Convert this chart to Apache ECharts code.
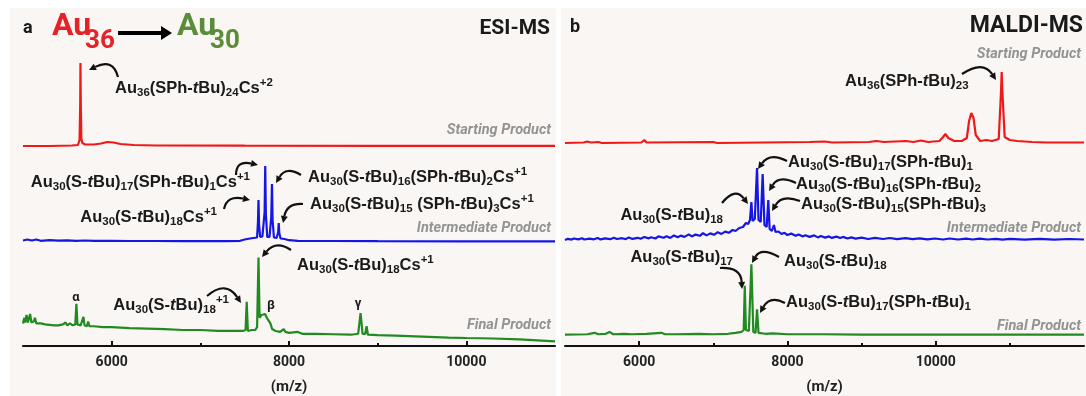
<!DOCTYPE html>
<html>
<head>
<meta charset="utf-8">
<script src="https://cdn.jsdelivr.net/npm/echarts@6/dist/echarts.min.js"></script>
<style>
html, body { margin: 0; padding: 0; background: #fff; }
#chart { width: 1086px; height: 396px; }
</style>
</head>
<body>
<div id="chart"></div>
<script>
// m/z ranges and ticks
const esiRange = [5000, 11000]
const maldiRange = [5000, 12000]
const majorTicks = [6000, 8000, 10000]
const esiMinorTicks = [7000, 9000]
const maldiMinorTicks = [7000, 9000, 11000]

// ESI-MS spectra, [m/z, intensity]
const esiStart = [[5000,0],[5300,0],[5550,0.5],[5620,1],[5638,6],[5645,40],[5648,83],[5652,40],[5658,7],[5670,3],[5700,1.5],[5800,1.5],[5880,2.5],[5950,4],[6020,3.5],[6100,2],[6250,1],[6500,0.5],[7500,0.3],[9000,0.2],[11000,0.2]]
const esiInter = [[5000,1.5],[5050,2.5],[5100,1.5],[5150,2.5],[5200,1.2],[5300,1.8],[5400,1.3],[5500,1.6],[5600,1.2],[5700,1.5],[5800,1.1],[6000,1.2],[6200,1],[6500,1],[6800,0.8],[7000,0.9],[7300,0.8],[7450,1.2],[7500,2.5],[7560,3.5],[7600,4],[7640,4.5],[7650,20],[7656,42],[7662,18],[7675,5],[7700,5.5],[7725,30],[7732,76],[7739,28],[7755,5],[7780,5],[7800,25],[7808,58],[7815,22],[7830,4.5],[7860,4],[7878,10],[7884,19],[7890,9],[7905,3.5],[7950,3],[8000,1.8],[8100,1.2],[8500,1],[9000,0.8],[10000,0.7],[11000,0.6]]
const esiFinal = [[5000,24],[5015,30],[5025,25],[5040,33],[5055,25],[5080,34],[5095,25],[5120,26],[5135,30],[5150,24],[5200,24],[5250,23],[5300,22.5],[5350,22],[5400,22],[5450,23],[5480,25],[5500,22],[5530,24],[5560,22],[5590,23],[5602,45],[5614,23],[5650,22],[5670,22],[5682,31],[5694,22],[5720,21],[5735,26],[5750,21],[5800,21],[5900,20],[6000,20],[6200,19],[6400,18.5],[6600,18],[6800,17],[7000,17],[7200,16],[7400,16],[7480,16],[7510,17],[7523,47],[7536,16],[7580,17],[7620,17],[7640,20],[7656,94],[7668,30],[7690,33],[7710,31],[7730,34],[7750,30],[7770,29],[7790,24],[7810,18],[7850,16],[7900,15],[7940,18],[7960,15],[8000,14],[8100,15],[8150,13],[8300,13],[8500,12.5],[8700,12],[8780,13],[8807,35],[8830,13],[8860,13],[8875,21],[8890,12],[9000,11.5],[9200,11],[9500,10],[9800,9],[10000,8.5],[10300,8],[10600,7],[11000,5]]

// MALDI-MS spectra, [m/z, intensity]
const maldiStart = [[5000,0],[5250,0.5],[5300,1.5],[5350,0.5],[5450,1],[5500,0],[6030,0.5],[6070,3],[6100,0.5],[7000,1],[7050,0],[8300,1],[8500,1.5],[8600,0.5],[9100,1],[9200,2],[9300,1],[9600,2],[9700,1],[9800,2.5],[9900,1],[10050,2],[10100,6],[10130,9],[10170,5],[10250,2],[10350,2],[10420,5],[10450,22],[10480,30],[10510,25],[10540,8],[10600,2],[10680,3],[10760,2],[10850,4],[10880,50],[10890,71],[10900,50],[10930,6],[11000,3],[11100,2],[11300,1],[11500,0.5],[12000,0.5]]
const maldiInter = [[5000,0],[5040,1.2],[5090,0.4],[5120,1.5],[5180,0.6],[5230,1.8],[5260,0.5],[5330,1.4],[5390,0.7],[5440,2],[5480,0.6],[5540,1.6],[5610,0.8],[5660,2.2],[5700,1],[5770,1.8],[5820,0.9],[5860,2.6],[5910,1.1],[5980,2.2],[6020,1.3],[6070,3],[6130,1.6],[6160,2.8],[6220,1.5],[6260,3.6],[6330,2.2],[6370,3.8],[6420,2.1],[6470,4.6],[6520,2.8],[6560,4.4],[6610,3.1],[6670,5.6],[6710,3.6],[6760,5.4],[6820,4.2],[6860,6.8],[6910,4.6],[6960,6.6],[7010,5.2],[7060,7.8],[7110,6.1],[7160,8.4],[7210,7.2],[7260,10],[7300,9],[7350,12],[7400,13],[7440,17],[7470,16],[7495,20],[7514,38],[7530,19],[7560,21],[7590,72],[7610,20],[7640,18],[7666,66],[7690,15],[7720,13],[7742,40],[7760,11],[7790,9],[7818,15],[7840,8],[7880,8.5],[7920,6],[7960,7.2],[8000,5],[8050,6.4],[8110,4.2],[8150,5.6],[8210,3.6],[8240,4.8],[8300,3.1],[8360,4.6],[8410,2.6],[8450,4],[8510,2.4],[8560,3.6],[8600,2.1],[8660,3.4],[8710,1.9],[8750,3.1],[8810,1.5],[8860,2.6],[8920,1.4],[9000,2.4],[9090,1],[9180,2.1],[9290,1],[9380,2],[9480,0.8],[9590,1.8],[9690,0.8],[9780,1.7],[9890,0.6],[9990,1.5],[10100,0.5],[10190,1.5],[10300,0.5],[10410,1.4],[10500,0.5],[10590,1.4],[10700,0.5],[10810,1.2],[10900,0.4],[11000,1.2],[11200,0.4],[11400,1.2],[11600,0.4],[11800,1],[12000,0.5]]
const maldiFinal = [[5000,12],[5300,12.5],[5400,14],[5450,12.5],[5550,13],[5600,15],[5650,12.5],[5800,13],[5900,12.5],[6100,13],[6300,14],[6350,12.5],[6500,12.5],[6800,13],[7000,12.5],[7200,13],[7300,14],[7380,15],[7410,17],[7425,64],[7440,17],[7480,16],[7514,87],[7540,15],[7570,14],[7590,39],[7610,14],[7700,13],[7800,13.5],[8000,12.5],[8500,12.5],[9000,12],[10000,12],[11000,12],[12000,12]]

const red = '#f01818'
const blue = '#1616e4'
const green = '#218b21'
const ink = '#1a1a1a'

// label markup: _{sub} ^{sup} *italic*
function fm(s){
    return s.split(/(_\{[^}]*\}|\^\{[^}]*\}|\*[^*]*\*)/).filter(t => t).map(t => {
        if (t[0] === '_') return '{s|' + t.slice(2, -1) + '}'
        if (t[0] === '^') return '{p|' + t.slice(2, -1) + '}'
        if (t[0] === '*') return '{i|' + t.slice(1, -1) + '}'
        return '{n|' + t + '}'
    }).join('')
}

const fam = 'Roboto, Arial, sans-serif'
const lab = '"Liberation Sans", Arial, sans-serif'
const rich = {
    n: { fontSize: 16.5, fontWeight: 'bold', fontFamily: lab, fill: ink, lineHeight: 22 },
    i: { fontSize: 16.5, fontWeight: 'bold', fontStyle: 'italic', fontFamily: lab, fill: ink, lineHeight: 22 },
    s: { fontSize: 11.5, fontWeight: 'bold', fontFamily: lab, fill: ink, lineHeight: 13, verticalAlign: 'bottom' },
    p: { fontSize: 11.5, fontWeight: 'bold', fontFamily: lab, fill: ink, lineHeight: 13, verticalAlign: 'top' }
}

function label(x, y, s, align){
    return {
        type: 'text', x: x, y: y, z: 100,
        style: { text: fm(s), rich: rich, align: align || 'left', textAlign: align || 'left', verticalAlign: 'middle', textVerticalAlign: 'middle' }
    }
}

function plain(x, y, s, font, color, align){
    return {
        type: 'text', x: x, y: y, z: 100,
        style: { text: s, font: font, fill: color, align: align || 'left', textAlign: align || 'left', verticalAlign: 'middle', textVerticalAlign: 'middle' }
    }
}

function arrow(x1, y1, cx, cy, x2, y2){
    let a = Math.atan2(y2 - cy, x2 - cx)
    let L = 7, W = 3.5
    let bx = x2 - L * Math.cos(a), by = y2 - L * Math.sin(a)
    let px = -Math.sin(a) * W, py = Math.cos(a) * W
    return [
        { type: 'bezierCurve', z: 100, shape: { x1: x1, y1: y1, x2: bx, y2: by, cpx1: cx, cpy1: cy }, style: { stroke: '#111', lineWidth: 2.2, fill: 'none' } },
        { type: 'polygon', z: 100, shape: { points: [[x2, y2], [bx + px, by + py], [bx - px, by - py]] }, style: { fill: '#111' } }
    ]
}

const tagFont = 'italic bold 14.5px ' + fam
const tagColor = '#939393'

let graphics = [
    { type: 'rect', z: -10, shape: { x: 10, y: 8, width: 546, height: 388 }, style: { fill: '#f9f6f4' } },
    { type: 'rect', z: -10, shape: { x: 561, y: 8, width: 525, height: 388 }, style: { fill: '#f9f6f4' } },

    // panel a header
    plain(23, 28, 'a', 'bold 18px ' + fam, ink),
    plain(52, 27, 'Au', 'bold 32px ' + fam, '#e52228'),
    plain(85, 41, '36', 'bold 26px ' + fam, '#e52228'),
    { type: 'line', z: 100, shape: { x1: 118, y1: 33, x2: 163, y2: 33 }, style: { stroke: '#000', lineWidth: 4 } },
    { type: 'polygon', z: 100, shape: { points: [[161, 26], [172, 33], [161, 40]] }, style: { fill: '#000' } },
    plain(177, 27, 'Au', 'bold 32px ' + fam, '#5a8c3a'),
    plain(210, 41, '30', 'bold 26px ' + fam, '#5a8c3a'),
    plain(550, 29, 'ESI-MS', 'bold 21px ' + fam, ink, 'right'),

    // panel a labels
    label(115, 88, 'Au_{36}(SPh-*t*Bu)_{24}Cs^{+2}'),
    plain(551, 130, 'Starting Product', tagFont, tagColor, 'right'),
    label(250, 182, 'Au_{30}(S-*t*Bu)_{17}(SPh-*t*Bu)_{1}Cs^{+1}', 'right'),
    label(217, 217, 'Au_{30}(S-*t*Bu)_{18}Cs^{+1}', 'right'),
    label(308, 177, 'Au_{30}(S-*t*Bu)_{16}(SPh-*t*Bu)_{2}Cs^{+1}'),
    label(310, 204, 'Au_{30}(S-*t*Bu)_{15} (SPh-*t*Bu)_{3}Cs^{+1}'),
    plain(551, 228, 'Intermediate Product', tagFont, tagColor, 'right'),
    label(297, 265, 'Au_{30}(S-*t*Bu)_{18}Cs^{+1}'),
    label(229, 305, 'Au_{30}(S-*t*Bu)_{18}^{+1}', 'right'),
    plain(76, 298, 'α', 'bold 13px ' + fam, ink, 'center'),
    plain(271, 306, 'β', 'bold 13px ' + fam, ink, 'center'),
    plain(358, 304, 'γ', 'bold 13px ' + fam, ink, 'center'),
    plain(551, 325, 'Final Product', tagFont, tagColor, 'right'),

    // panel b header
    plain(570, 27, 'b', 'bold 18px ' + fam, ink),
    plain(1083, 26, 'MALDI-MS', 'bold 23px ' + fam, ink, 'right'),
    plain(1081, 54, 'Starting Product', tagFont, tagColor, 'right'),
    label(845, 81, 'Au_{36}(SPh-*t*Bu)_{23}'),

    // panel b labels
    label(788, 162, 'Au_{30}(S-*t*Bu)_{17}(SPh-*t*Bu)_{1}'),
    label(796, 184, 'Au_{30}(S-*t*Bu)_{16}(SPh-*t*Bu)_{2}'),
    label(801, 204, 'Au_{30}(S-*t*Bu)_{15}(SPh-*t*Bu)_{3}'),
    label(723, 215, 'Au_{30}(S-*t*Bu)_{18}', 'right'),
    plain(1081, 228, 'Intermediate Product', tagFont, tagColor, 'right'),
    label(733, 257, 'Au_{30}(S-*t*Bu)_{17}', 'right'),
    label(784, 261, 'Au_{30}(S-*t*Bu)_{18}'),
    label(786, 302, 'Au_{30}(S-*t*Bu)_{17}(SPh-*t*Bu)_{1}'),
    plain(1081, 326, 'Final Product', tagFont, tagColor, 'right')
]

graphics = graphics.concat(
    arrow(118, 77, 113, 58, 89, 70),
    arrow(236, 175, 236, 160, 258, 165),
    arrow(224, 209, 227, 195, 250, 200),
    arrow(301, 175, 286, 166, 276, 183),
    arrow(303, 204, 287, 203, 283, 223),
    arrow(291, 250, 276, 240, 262, 257),
    arrow(207, 296, 226, 280, 241, 303),
    arrow(962, 74, 983, 60, 996, 80),
    arrow(787, 161, 770, 152, 758, 169),
    arrow(796, 183, 779, 175, 769, 191),
    arrow(800, 201, 782, 194, 772, 211),
    arrow(722, 203, 735, 187, 748, 204),
    arrow(720, 268, 741, 267, 742, 289),
    arrow(779, 257, 761, 247, 752, 263),
    arrow(785, 303, 770, 295, 760, 313)
)

// grids: panel a (top, mid, bottom), panel b (top, mid, bottom)
const grids = [
    { left: 23, width: 532, top: 46, height: 105 },
    { left: 23, width: 532, top: 142, height: 105 },
    { left: 23, width: 532, top: 252, height: 100 },
    { left: 565, width: 519, top: 43, height: 105 },
    { left: 565, width: 519, top: 140, height: 105 },
    { left: 565, width: 519, top: 252, height: 100 }
]

function hiddenX(gi, range){
    return { type: 'value', gridIndex: gi, min: range[0], max: range[1], show: false }
}
function mainX(gi, range){
    return {
        type: 'value', gridIndex: gi, min: range[0], max: range[1], position: 'bottom',
        splitLine: { show: false },
        axisLine: { show: true, onZero: false, lineStyle: { color: '#111', width: 2 } },
        axisTick: { show: true, inside: true, length: 5, customValues: majorTicks, lineStyle: { color: '#111', width: 2 } },
        axisLabel: { customValues: majorTicks, formatter: v => String(v), margin: 9, color: '#222', fontSize: 14, fontWeight: 'bold', fontFamily: fam },
        name: '(m/z)', nameLocation: 'middle', nameGap: 34,
        nameTextStyle: { color: '#222', fontSize: 15, fontWeight: 'bold', fontFamily: fam }
    }
}
function minorX(gi, range, ticks){
    return {
        type: 'value', gridIndex: gi, min: range[0], max: range[1], position: 'bottom',
        splitLine: { show: false },
        axisLine: { show: false, onZero: false },
        axisTick: { show: true, inside: true, length: 3, customValues: ticks, lineStyle: { color: '#111', width: 2 } },
        axisLabel: { show: false }
    }
}

const xAxes = [
    hiddenX(0, esiRange), hiddenX(1, esiRange), mainX(2, esiRange), minorX(2, esiRange, esiMinorTicks),
    hiddenX(3, maldiRange), hiddenX(4, maldiRange), mainX(5, maldiRange), minorX(5, maldiRange, maldiMinorTicks)
]
const yAxes = [
    { gridIndex: 0, type: 'value', min: -5, max: 100, show: false },
    { gridIndex: 1, type: 'value', min: -5, max: 100, show: false },
    { gridIndex: 2, type: 'value', min: 0, max: 100, show: false },
    { gridIndex: 3, type: 'value', min: -5, max: 100, show: false },
    { gridIndex: 4, type: 'value', min: -5, max: 100, show: false },
    { gridIndex: 5, type: 'value', min: 0, max: 100, show: false }
]

function spectrum(data, xi, yi, color){
    return {
        type: 'line', data: data, xAxisIndex: xi, yAxisIndex: yi,
        showSymbol: false, symbol: 'none', silent: true, animation: false,
        lineStyle: { color: color, width: 2.2 }, itemStyle: { color: color }
    }
}

const chart = echarts.init(document.getElementById('chart'))
chart.setOption({
    backgroundColor: '#ffffff',
    animation: false,
    grid: grids,
    xAxis: xAxes,
    yAxis: yAxes,
    graphic: graphics,
    series: [
        spectrum(esiStart, 0, 0, red),
        spectrum(esiInter, 1, 1, blue),
        spectrum(esiFinal, 2, 2, green),
        spectrum(maldiStart, 4, 3, red),
        spectrum(maldiInter, 5, 4, blue),
        spectrum(maldiFinal, 6, 5, green)
    ]
})
</script>
</body>
</html>
